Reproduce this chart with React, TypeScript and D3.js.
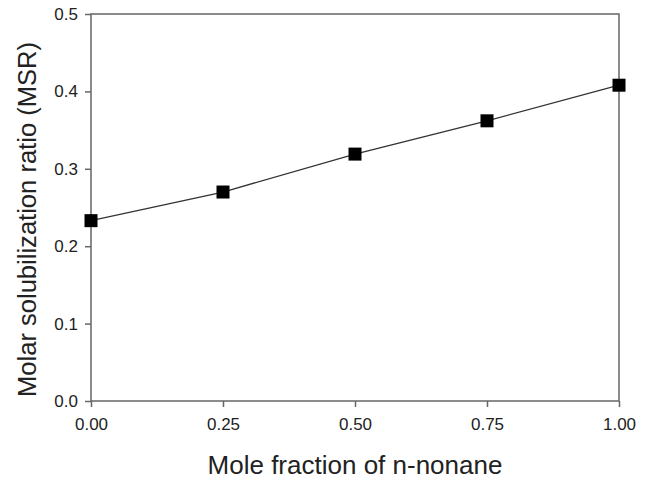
import React, { useEffect, useRef } from 'react';
import * as d3 from 'd3';

const moleFraction = [0, 0.25, 0.5, 0.75, 1.0];
const msr = [0.233, 0.27, 0.319, 0.362, 0.408];
const xTicks = [0, 0.25, 0.5, 0.75, 1.0];
const yTicks = [0, 0.1, 0.2, 0.3, 0.4, 0.5];

const W = 651;
const H = 479;
const margin = { top: 14, right: 32, bottom: 78, left: 91 };

const App = () => {
  const svgRef = useRef<SVGSVGElement>(null);

  useEffect(() => {
    const svg = d3.select(svgRef.current);
    svg.selectAll('*').remove();

    const width = W - margin.left - margin.right;
    const height = H - margin.top - margin.bottom;
    const font = 'Liberation Sans, Arial, sans-serif';

    const x = d3.scaleLinear().domain([0, 1]).range([0, width]);
    const y = d3.scaleLinear().domain([0, 0.5]).range([height, 0]);

    const g = svg.append('g').attr('transform', `translate(${margin.left},${margin.top})`);

    // frame
    g.append('rect')
      .attr('width', width)
      .attr('height', height)
      .attr('fill', 'none')
      .attr('stroke', '#666')
      .attr('stroke-width', 1.5);

    // x axis
    const xAxis = g
      .append('g')
      .attr('transform', `translate(0,${height})`)
      .call(d3.axisBottom(x).tickValues(xTicks).tickSize(6).tickPadding(11).tickSizeOuter(0).tickFormat(d3.format('.2f')));
    xAxis.select('.domain').remove();
    xAxis.selectAll('line').attr('stroke', '#666').attr('stroke-width', 1.5);
    xAxis.selectAll('text').attr('font-family', font).attr('font-size', 17).attr('fill', '#222');

    // y axis
    const yAxis = g
      .append('g')
      .call(d3.axisLeft(y).tickValues(yTicks).tickSize(6).tickPadding(7).tickSizeOuter(0).tickFormat(d3.format('.1f')));
    yAxis.select('.domain').remove();
    yAxis.selectAll('line').attr('stroke', '#666').attr('stroke-width', 1.5);
    yAxis.selectAll('text').attr('font-family', font).attr('font-size', 17).attr('fill', '#222');

    const data = moleFraction.map((d, i) => ({ x: d, y: msr[i] }));

    const line = d3
      .line<{ x: number; y: number }>()
      .x((d) => x(d.x))
      .y((d) => y(d.y));

    g.append('path')
      .datum(data)
      .attr('fill', 'none')
      .attr('stroke', '#333')
      .attr('stroke-width', 1.3)
      .attr('d', line);

    const s = 13;
    g.selectAll('.pt')
      .data(data)
      .enter()
      .append('rect')
      .attr('class', 'pt')
      .attr('x', (d) => x(d.x) - s / 2)
      .attr('y', (d) => y(d.y) - s / 2)
      .attr('width', s)
      .attr('height', s)
      .attr('fill', '#000');

    // axis titles
    svg.append('text')
      .attr('x', 355)
      .attr('y', 474)
      .attr('text-anchor', 'middle')
      .attr('font-family', font)
      .attr('font-size', 26)
      .attr('fill', '#222')
      .text('Mole fraction of n-nonane');

    svg.append('text')
      .attr('transform', `translate(36,${margin.top + height / 2 + 12}) rotate(-90)`)
      .attr('text-anchor', 'middle')
      .attr('font-family', font)
      .attr('font-size', 26)
      .attr('fill', '#222')
      .attr('textLength', 355)
      .attr('lengthAdjust', 'spacingAndGlyphs')
      .text('Molar solubilization ratio (MSR)');
  }, []);

  return (
    <svg
      ref={svgRef}
      width={W}
      height={H}
      style={{ position: 'absolute', left: 0, top: 0, background: '#fff' }}
    ></svg>
  );
};

export default App;
